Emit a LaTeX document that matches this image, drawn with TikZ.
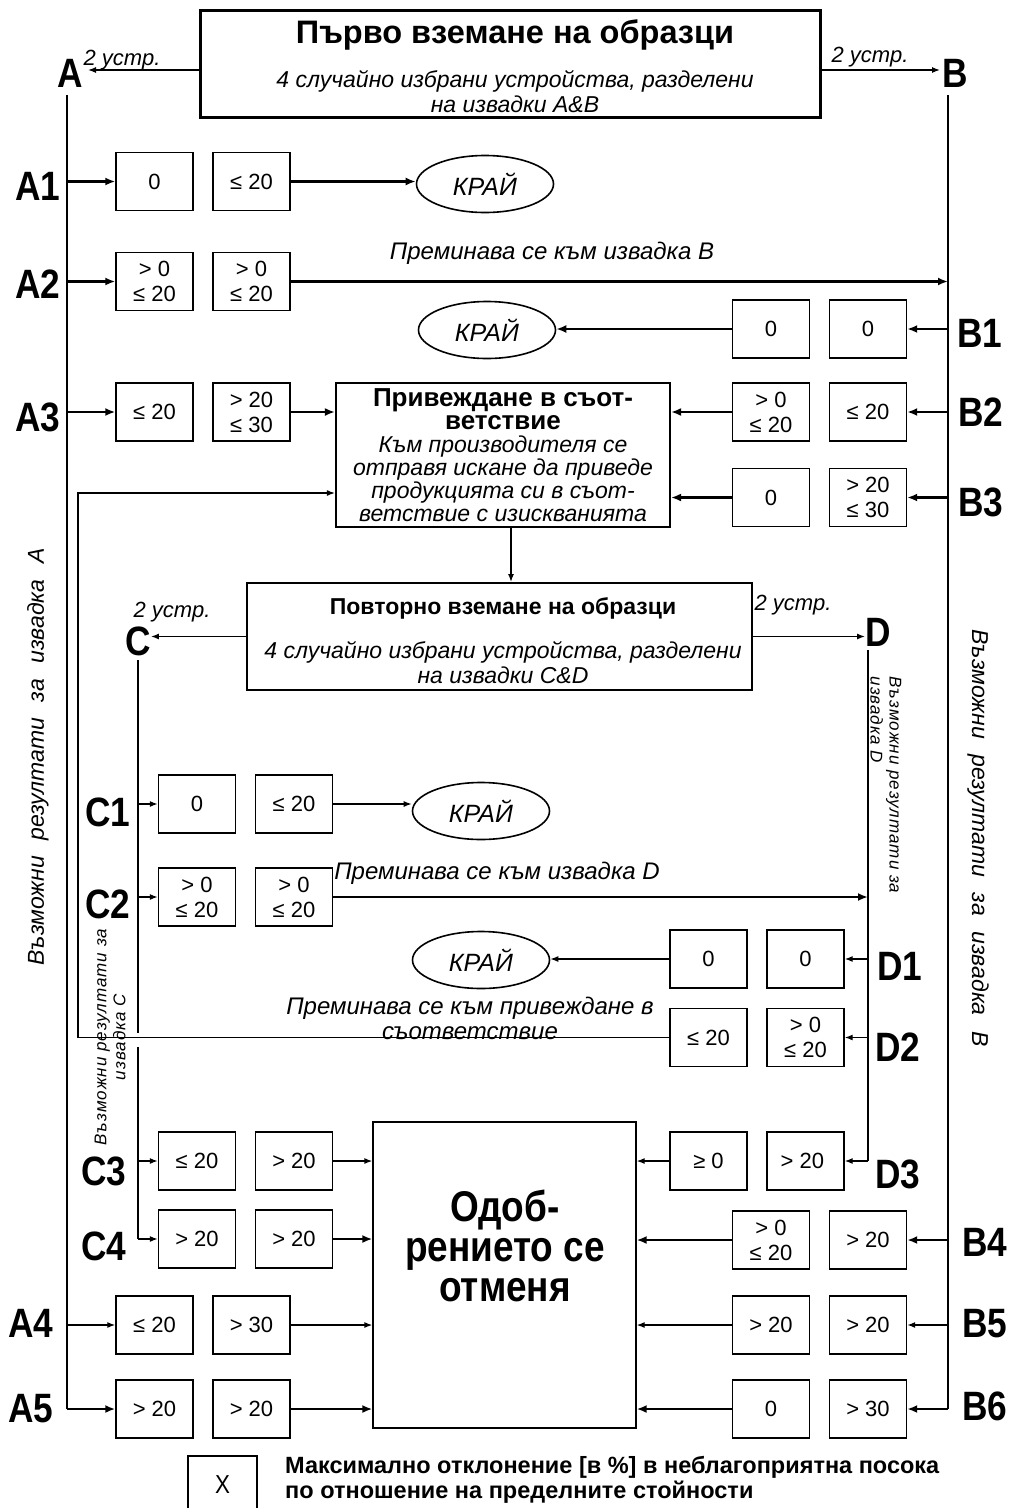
\documentclass[tikz,border=0pt]{standalone}
\usepackage{fontspec}
\setmainfont{Liberation Sans}
\newfontfamily\cond[FakeStretch=0.86]{Liberation Sans}
\usetikzlibrary{arrows.meta,shapes.geometric}

\newcommand{\wsp}{\hspace{9pt}}

\tikzset{
  cell/.style={draw, line width=1.4pt, minimum width=77pt, minimum height=58pt, inner sep=0pt, align=center, font=\fontsize{22}{25}\selectfont},
  rowlbl/.style={inner sep=0pt, font=\cond\bfseries\fontsize{41}{41}\selectfont},
  krai/.style={draw, ellipse, line width=1.6pt, minimum width=137pt, minimum height=57pt, font=\itshape\fontsize{25}{25}\selectfont},
  note/.style={inner sep=0pt, align=center, font=\itshape\fontsize{22}{25}\selectfont},
  passnote/.style={inner sep=0pt, align=center, font=\itshape\fontsize{24}{25}\selectfont},
  sidenote/.style={inner sep=0pt, font=\itshape\fontsize{23}{24}\selectfont},
  smallside/.style={inner sep=0pt, font=\itshape\fontsize{17}{19}\selectfont\addfontfeature{LetterSpace=6}},
  flow/.style={->, >={Latex[length=8pt,width=6pt]}, line width=1.3pt},
  mainflow/.style={->, >={Latex[length=10pt,width=8pt]}, line width=2.8pt},
  rail/.style={line width=1.8pt}
}

\begin{document}
\begin{tikzpicture}[x=1pt, y=-1pt]
\useasboundingbox (0,0) rectangle (1009,1508);

\node[draw, line width=3pt, minimum width=620pt, minimum height=107pt] (first) at (510,64) {};
\node[inner sep=0pt, font=\bfseries\fontsize{32.5}{32}\selectfont] (first-t) at (515,35) {Първо вземане на образци};
\node[note, font=\itshape\fontsize{23}{25}\selectfont] (first-s) at (515,92) {4 случайно избрани устройства, разделени\\на извадки A\&B};

\node[rowlbl] (A) at (70,73) {A};
\node[rowlbl] (B) at (955,73) {B};
\node[note] (A-n) at (122,60) {2 устр.};
\node[note] (B-n) at (870,57) {2 устр.};
\coordinate (A-in) at (88,70);
\coordinate (B-in) at (940,70);
\draw[flow] (first.west |- A-in) -- (A-in);
\draw[flow] (first.east |- B-in) -- (B-in);

\coordinate (A-top) at (67,95);
\coordinate (B-top) at (948,95);

\foreach \n/\x/\y/\p/\q in {
  a1/154.5/181.5/0/{≤ 20},
  a2/154.5/281.5/{> 0\\≤ 20}/{> 0\\≤ 20},
  a3/154.5/412/{≤ 20}/{> 20\\≤ 30},
  a4/154.5/1325/{≤ 20}/{> 30},
  a5/154.5/1409/{> 20}/{> 20},
  b1/771/329/0/0,
  b2/771/412/{> 0\\≤ 20}/{≤ 20},
  b3/771/497.5/0/{> 20\\≤ 30},
  b4/771/1240/{> 0\\≤ 20}/{> 20},
  b5/771/1325/{> 20}/{> 20},
  b6/771/1409/0/{> 30},
  c1/197/804/0/{≤ 20},
  c2/197/897/{> 0\\≤ 20}/{> 0\\≤ 20},
  c3/197/1161/{≤ 20}/{> 20},
  c4/197/1239/{> 20}/{> 20},
  d1/708.5/959/0/0,
  d2/708.5/1037.5/{≤ 20}/{> 0\\≤ 20},
  d3/708.5/1161/{≥ 0}/{> 20}
}{
  \node[cell] (\n-l) at (\x,\y) {\p};
  \node[cell] (\n-r) at (\x+97,\y) {\q};
}

\foreach \t/\x/\y in {A1/38/186, A2/38/284, A3/38/417, A4/31/1323, A5/31/1409,
  B1/980/333, B2/981/412, B3/981/502, B4/985/1242, B5/985/1324, B6/985/1406,
  C1/108/812, C2/108/904, C3/104/1171, C4/104/1246, D1/900/966, D2/898/1047, D3/898/1174}{
  \node[rowlbl] (l\t) at (\x,\y) {\t};
}

\node[krai] (end1) at (485,184) {КРАЙ};
\node[krai] (end2) at (487,330) {КРАЙ};
\node[krai] (end3) at (481,811) {КРАЙ};
\node[krai] (end4) at (481,960) {КРАЙ};

\node[draw, line width=2.2pt, minimum width=334pt, minimum height=144pt, inner sep=0pt, align=center, font=\itshape\fontsize{23}{23}\selectfont] (konf) at (503,455)
  {{\upshape\bfseries\fontsize{26}{23}\selectfont Привеждане в съот-}\\{\upshape\bfseries\fontsize{26}{23}\selectfont ветствие}\\Към производителя се\\отправя искане да приведе\\продукцията си в съот-\\ветствие с изискванията};

\node[draw, line width=2pt, minimum width=505pt, minimum height=107pt] (second) at (499.5,636.5) {};
\node[inner sep=0pt, font=\bfseries\fontsize{23}{23}\selectfont] (second-t) at (503,608) {Повторно вземане на образци};
\node[note, font=\itshape\fontsize{23}{25}\selectfont] (second-s) at (503,663) {4 случайно избрани устройства, разделени\\на извадки C\&D};

\node[rowlbl] (C) at (138,641) {C};
\node[rowlbl] (D) at (878,632) {D};
\node[note] (C-n) at (172,612) {2 устр.};
\node[note] (D-n) at (793,605) {2 устр.};
\draw[flow] (second.west) -- (second.west -| C.east);
\draw[flow] (second.east) -- (second.east -| D.west);
\coordinate (C-top) at (138,660);
\coordinate (D-top) at (868,650);

\node[draw, line width=1.3pt, minimum width=263pt, minimum height=306pt] (reject) at (504.5,1275) {};
\node[inner sep=0pt, align=center, font=\cond\bfseries\fontsize{43}{40}\selectfont] (reject-t) at (505,1246) {Одоб-\\рението се\\отменя};

\node[passnote] (a2-txt) at (552,253) {Преминава се към извадка B};
\node[passnote] (c2-txt) at (497,873) {Преминава се към извадка D};
\node[passnote] (d2-txt) at (470,1018) {Преминава се към привеждане в\\съответствие};

\node[sidenote, rotate=90] (A-side) at (38,757) {Възможни\wsp{} резултати\wsp{} за\wsp{} извадка\wsp{} A};
\node[sidenote, rotate=-90] (B-side) at (978,838) {Възможни\wsp{} резултати\wsp{} за\wsp{} извадка\wsp{} B};
\node[smallside, rotate=-90, align=left] (D-side) at (886,785) {Възможни резултати за\\извадка D};
\node[smallside, rotate=90, align=center] (C-side) at (110,1037) {Възможни резултати за\\извадка C};

% rails
\draw[rail] (A-top) -- (A-top |- a5-l.west);
\draw[mainflow] (A-top |- a5-l.west) -- (a5-l.west);
\draw[rail] (B-top) -- (B-top |- b6-r.east);
\draw[mainflow] (B-top |- b6-r.east) -- (b6-r.east);
\coordinate (C-gap1) at (138,1033);
\coordinate (C-gap2) at (138,1047);
\draw[rail] (C-top) -- (C-gap1);
\draw[rail] (C-gap2) -- (C-gap2 |- c4-l.west);
\draw[flow] (C-gap2 |- c4-l.west) -- (c4-l.west);
\draw[rail] (D-top) -- (D-top |- d3-r.east);
\draw[flow] (D-top |- d3-r.east) -- (d3-r.east);

\draw[mainflow] (A-top |- a1-l.west) -- (a1-l.west);
\draw[mainflow] (A-top |- a2-l.west) -- (a2-l.west);
\draw[mainflow] (A-top |- a3-l.west) -- (a3-l.west);
\draw[flow] (A-top |- a4-l.west) -- (a4-l.west);
\draw[mainflow] (B-top |- b1-r.east) -- (b1-r.east);
\draw[mainflow] (B-top |- b2-r.east) -- (b2-r.east);
\draw[mainflow] (B-top |- b3-r.east) -- (b3-r.east);
\draw[mainflow] (B-top |- b4-r.east) -- (b4-r.east);
\draw[flow] (B-top |- b5-r.east) -- (b5-r.east);
\draw[flow] (C-top |- c1-l.west) -- (c1-l.west);
\draw[flow] (C-top |- c2-l.west) -- (c2-l.west);
\draw[flow] (C-top |- c3-l.west) -- (c3-l.west);
\draw[flow] (D-top |- d1-r.east) -- (d1-r.east);
\draw[flow] (D-top |- d2-r.east) -- (d2-r.east);

\draw[mainflow] (a1-r.east) -- (a1-r.east -| end1.west);
\draw[mainflow] (a2-r.east) -- (a2-r.east -| B-top);
\draw[mainflow] (b1-l.west) -- (b1-l.west -| end2.east);
\draw[mainflow] (a3-r.east) -- (a3-r.east -| konf.west);
\draw[mainflow] (b2-l.west) -- (b2-l.west -| konf.east);
\draw[mainflow] (b3-l.west) -- (b3-l.west -| konf.east);
\draw[flow] ([xshift=8pt]konf.south) -- ([xshift=8pt]konf.south |- second.north);

\draw[flow] (c1-r.east) -- (c1-r.east -| end3.west);
\draw[mainflow] (c2-r.east) -- (c2-r.east -| D-top);
\draw[flow] (d1-l.west) -- (d1-l.west -| end4.east);
\coordinate (fb) at (78,493);
\draw[flow] (d2-l.west) -| (fb) -- (fb -| konf.west);

\draw[flow] (c3-r.east) -- (c3-r.east -| reject.west);
\draw[mainflow] (c4-r.east) -- (c4-r.east -| reject.west);
\draw[flow] (a4-r.east) -- (a4-r.east -| reject.west);
\draw[mainflow] (a5-r.east) -- (a5-r.east -| reject.west);
\draw[flow] (d3-l.west) -- (d3-l.west -| reject.east);
\draw[mainflow] (b4-l.west) -- (b4-l.west -| reject.east);
\draw[flow] (b5-l.west) -- (b5-l.west -| reject.east);
\draw[mainflow] (b6-l.west) -- (b6-l.west -| reject.east);

\node[draw, line width=1.3pt, minimum width=69pt, minimum height=58pt, font=\cond\fontsize{26}{26}\selectfont] (legend) at (222.5,1485) {X};
\node[anchor=west, inner sep=0pt, align=left, font=\bfseries\fontsize{23.5}{25}\selectfont] (legend-t) at (285,1480) {Максимално отклонение [в \%] в неблагоприятна посока\\по отношение на пределните стойности};

\end{tikzpicture}
\end{document}
